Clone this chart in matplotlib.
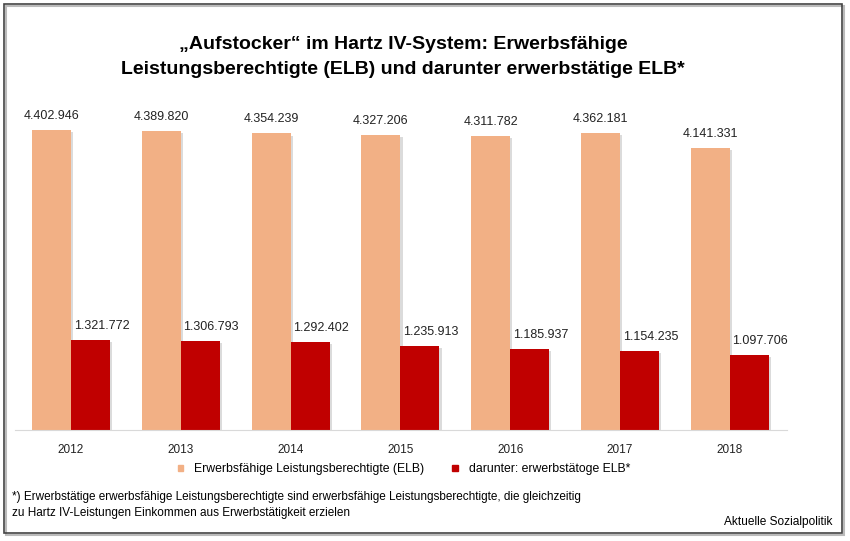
import numpy as np
import matplotlib.pyplot as plt
import matplotlib.patheffects as pe
from matplotlib.patches import Patch, Rectangle

plt.rcParams['font.family'] = ['Liberation Sans', 'DejaVu Sans']

# Data
years = ['2012', '2013', '2014', '2015', '2016', '2017', '2018']
elb = [4402946, 4389820, 4354239, 4327206, 4311782, 4362181, 4141331]
erwerbstaetig = [1321772, 1306793, 1292402, 1235913, 1185937, 1154235, 1097706]
labels = ['Erwerbsfähige Leistungsberechtigte (ELB)', 'darunter: erwerbstätoge ELB*']

def de_fmt(v):
    return f'{v:,}'.replace(',', '.')

fig = plt.figure(figsize=(8.5, 5.41), dpi=100)
W, H = 850, 541
ax = fig.add_axes([15 / W, 1 - 430 / H, (787 - 15) / W, (430 - 85) / H])

x = np.arange(len(years))
w = 0.355
shadow = [pe.SimplePatchShadow(offset=(1.5, -1.5), shadow_rgbFace='#999999', alpha=0.35), pe.Normal()]
ax.bar(x - w / 2, elb, w, color='#F2B085', path_effects=shadow, zorder=2)
ax.bar(x + w / 2, erwerbstaetig, w, color='#C00000', path_effects=shadow, zorder=2)

for i in range(len(years)):
    ax.annotate(de_fmt(elb[i]), (x[i] - w / 2, elb[i]), xytext=(0, 6), textcoords='offset points',
                ha='center', va='bottom', fontsize=9, color='#222222')
    ax.annotate(de_fmt(erwerbstaetig[i]), (x[i] + w / 2 + 0.1, erwerbstaetig[i]), xytext=(0, 6),
                textcoords='offset points', ha='center', va='bottom', fontsize=9, color='#222222')

ax.set_xlim(-0.51, 6.52)
ax.set_ylim(0, 345 / 68.1 * 1e6)
ax.set_xticks(x)
ax.set_xticklabels(years, fontsize=8.5, color='#222222')
ax.tick_params(axis='x', length=0, pad=10)
ax.set_yticks([])
for s in ['top', 'right', 'left']:
    ax.spines[s].set_visible(False)
ax.spines['bottom'].set_color('#D9D9D9')

# Legend
handles = [Patch(color='#F2B085'), Patch(color='#C00000')]
fig.legend(handles, labels, loc='center', bbox_to_anchor=(404 / W, 1 - 469 / H), ncol=2,
           frameon=False, fontsize=8.8, handlelength=0.45, handleheight=0.4, columnspacing=2.25,
           handletextpad=0.9)

# Title
fig.text(403 / W, 1 - 45 / H, '„Aufstocker“ im Hartz IV-System: Erwerbsfähige',
         ha='center', va='center', fontsize=14, fontweight='bold')
fig.text(403 / W, 1 - 70 / H, 'Leistungsberechtigte (ELB) und darunter erwerbstätige ELB*',
         ha='center', va='center', fontsize=14, fontweight='bold')

# Footnote
fig.text(12 / W, 1 - 497 / H, '*) Erwerbstätige erwerbsfähige Leistungsberechtigte sind erwerbsfähige Leistungsberechtigte, die gleichzeitig',
         ha='left', va='center', fontsize=8.5)
fig.text(12 / W, 1 - 513 / H, 'zu Hartz IV-Leistungen Einkommen aus Erwerbstätigkeit erzielen',
         ha='left', va='center', fontsize=8.5)
fig.text(832 / W, 1 - 522 / H, 'Aktuelle Sozialpolitik', ha='right', va='center', fontsize=8.6)

# Border with a light shadow
fig.patches.append(Rectangle((6 / W, 1 - 535 / H), (842 - 4) / W, (533 - 4) / H,
                             transform=fig.transFigure, fill=False, edgecolor='#BBBBBB', linewidth=1.5))
fig.patches.append(Rectangle((4 / W, 1 - 533 / H), (842 - 4) / W, (533 - 4) / H,
                             transform=fig.transFigure, fill=False, edgecolor='#444444', linewidth=1.2))

fig.savefig('out.png', dpi=100)
